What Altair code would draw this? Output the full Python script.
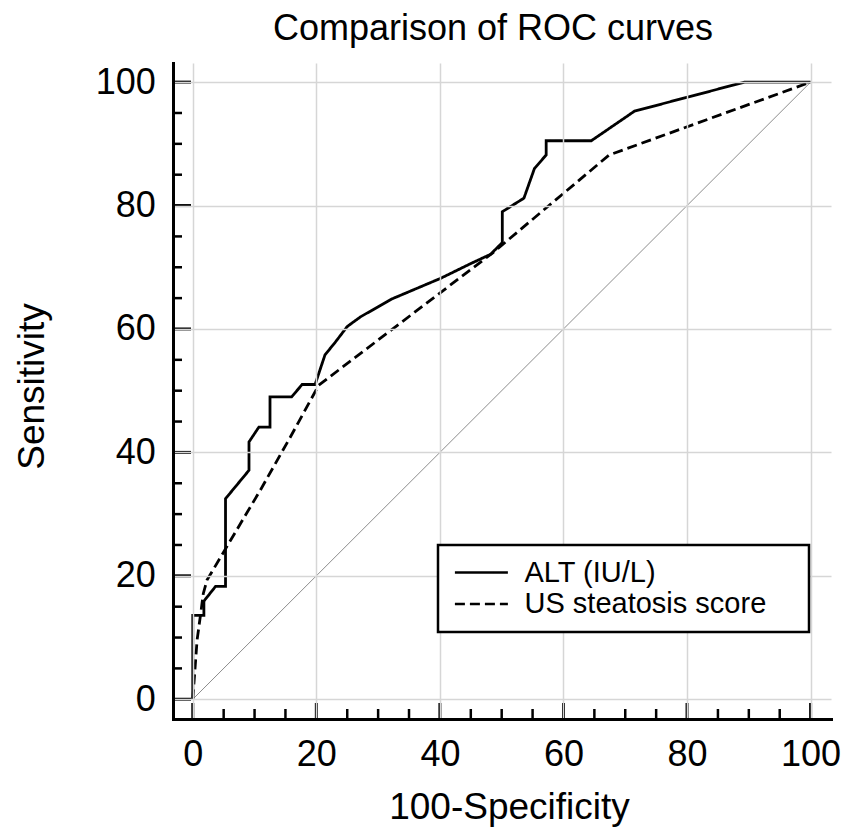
import altair as alt
import pandas as pd

# ---- data ----
alt_x = [0, 0, 1.8, 1.8, 3.7, 5.3, 5.3, 9.1, 9.1, 10.7, 12.5, 12.5, 16.0, 17.7, 19.8,
         21.4, 23.1, 25.0, 27.2, 32.3, 40.1, 45.0, 48.2, 50.1, 50.1, 53.6, 55.3, 57.2,
         57.2, 64.5, 71.5, 89.3, 100]
alt_y = [0, 13.6, 13.6, 15.9, 18.3, 18.3, 32.5, 37.1, 41.7, 44.1, 44.1, 49.0, 49.0, 51.0, 51.0,
         55.8, 57.9, 60.4, 62.0, 64.9, 68.2, 70.6, 72.1, 74.0, 79.0, 81.2, 86.0, 88.2,
         90.5, 90.5, 95.3, 100, 100]
us_x = [0, 0.7, 1.3, 1.7, 2.3, 11.0, 15.8, 20.4, 48.5, 67.4, 100]
us_y = [0, 9.6, 14.0, 17.1, 19.3, 34.0, 42.5, 50.9, 72.3, 88.2, 100]
diag = [0, 100]
series_names = ["ALT (IU/L)", "US steatosis score"]
major_ticks = [0, 20, 40, 60, 80, 100]
minor_ticks = [5, 10, 15, 25, 30, 35, 45, 50, 55, 65, 70, 75, 85, 90, 95]

FONT = "Liberation Sans"
W, H = 658, 656

rows = []
for i, (a, b) in enumerate(zip(alt_x, alt_y)):
    rows.append({"series": series_names[0], "x": a, "y": b, "i": i})
for i, (a, b) in enumerate(zip(us_x, us_y)):
    rows.append({"series": series_names[1], "x": a, "y": b, "i": i})
curves = pd.DataFrame(rows)
diag_df = pd.DataFrame({"x": diag, "y": diag})

xs = alt.Scale(domain=[-3.2, 103.3], nice=False, zero=False)
ys = alt.Scale(domain=[-3.2, 103.1], nice=False, zero=False)

xaxis = alt.Axis(
    title="100-Specificity", values=major_ticks, grid=True, gridColor="#d6d6d6", gridWidth=1.5,
    ticks=False, tickSize=0, domain=True, domainColor="black", domainWidth=3, domainCap="square",
    labelFont=FONT, labelFontSize=36, labelColor="black", labelBaseline="alphabetic",
    labelPadding=46, labelFlush=False,
    titleFont=FONT, titleFontSize=37, titleFontWeight="normal", titleColor="black",
    titleX=336, titleY=99, titleBaseline="alphabetic", titleAlign="center", zindex=1)
yaxis = alt.Axis(
    title="Sensitivity", values=major_ticks, grid=True, gridColor="#d6d6d6", gridWidth=1.5,
    ticks=False, tickSize=0, domain=True, domainColor="black", domainWidth=3, domainCap="square",
    labelFont=FONT, labelFontSize=36, labelColor="black", labelPadding=17.6, labelFlush=False,
    titleFont=FONT, titleFontSize=37, titleFontWeight="normal", titleColor="black",
    titleX=-130, titleY=323, titleAngle=270, titleBaseline="alphabetic", titleAlign="center", zindex=1)

X = lambda: alt.X("x:Q", scale=xs, axis=xaxis)
Y = lambda: alt.Y("y:Q", scale=ys, axis=yaxis)

diag_layer = alt.Chart(diag_df).mark_line(color="#8c8c8c", strokeWidth=1).encode(x=X(), y=Y())

curve_layer = alt.Chart(curves).mark_line(color="black", strokeWidth=2.8, clip=False).encode(
    x=X(), y=Y(), order=alt.Order("i:Q"),
    strokeDash=alt.StrokeDash(
        "series:N",
        scale=alt.Scale(domain=series_names, range=[[1, 0], [10, 5]]),
        legend=alt.Legend(
            title="\u00a0", titleOrient="right", titleFontSize=1, titlePadding=30,
            orient="none", legendX=265, legendY=482, zindex=1,
            fillColor="white", strokeColor="black", padding=13, rowPadding=1.5,
            symbolType="M-1,0H4", symbolSize=449, symbolStrokeWidth=2.5,
            symbolStrokeColor="black", symbolFillColor="transparent", labelOffset=44.5,
            labelFont=FONT, labelFontSize=29, labelColor="black", labelLimit=0),
    ),
)

ytick_major = alt.Chart(pd.DataFrame({"y": major_ticks})).mark_rule(color="black", strokeWidth=3).encode(
    y=Y(), x=alt.value(0), x2=alt.value(18))
ytick_minor = alt.Chart(pd.DataFrame({"y": minor_ticks})).mark_rule(color="black", strokeWidth=2.5).encode(
    y=Y(), x=alt.value(0), x2=alt.value(9))
xtick_major = alt.Chart(pd.DataFrame({"x": major_ticks})).mark_rule(color="black", strokeWidth=3).encode(
    x=X(), y=alt.value(H), y2=alt.value(H - 16))
xtick_minor = alt.Chart(pd.DataFrame({"x": minor_ticks})).mark_rule(color="black", strokeWidth=2.5).encode(
    x=X(), y=alt.value(H), y2=alt.value(H - 10))

chart = alt.layer(diag_layer, curve_layer, ytick_major, ytick_minor, xtick_major, xtick_minor).properties(
    width=W, height=H,
    title=alt.Title("Comparison of ROC curves", font=FONT, fontSize=36, fontWeight="normal",
                    color="black", anchor="middle", frame="group", baseline="alphabetic",
                    offset=25, dx=-9, dy=38),
    autosize=alt.AutoSizeParams(type="none"),
    padding={"left": 165, "top": 55, "right": 14, "bottom": 109},
).configure_view(stroke=None).configure_legend(strokeWidth=2.5)

chart.save("out.html", embed_options={"renderer": "svg", "actions": False})
